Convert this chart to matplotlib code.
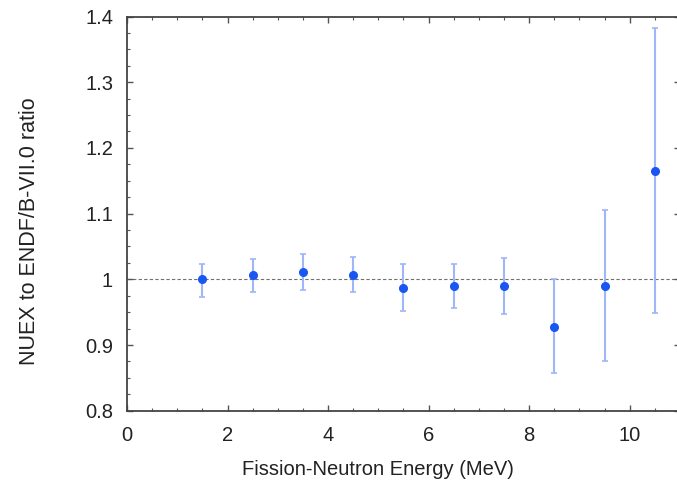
import numpy as np
import matplotlib
matplotlib.use("Agg")
import matplotlib.pyplot as plt
from matplotlib.ticker import MultipleLocator, FormatStrFormatter

plt.rcParams['font.family'] = ['Liberation Sans', 'DejaVu Sans']

# data
energy = [1.5, 2.5, 3.5, 4.5, 5.5, 6.5, 7.5, 8.5, 9.5, 10.5]
ratio = [1.000, 1.006, 1.011, 1.006, 0.987, 0.990, 0.990, 0.928, 0.990, 1.165]
err_hi = [1.024, 1.031, 1.038, 1.034, 1.023, 1.023, 1.033, 1.000, 1.105, 1.383]
err_lo = [0.973, 0.980, 0.983, 0.980, 0.952, 0.956, 0.947, 0.858, 0.875, 0.948]

ratio = np.array(ratio)
yerr = [ratio - np.array(err_lo), np.array(err_hi) - ratio]

fig = plt.figure(figsize=(6.77, 4.84), dpi=100)
ax = fig.add_axes([0.1876, 0.1514, 0.8168, 0.8145])

ax.axhline(1.0, color="#707070", lw=0.8, ls=(0, (3, 2)), zorder=1)
ax.errorbar(energy, ratio, yerr=yerr, fmt="none", ecolor="#9fb6f7",
            elinewidth=1.5, capsize=2.5, capthick=1.2, zorder=2)
ax.plot(energy, ratio, "o", color="#1a56f2", markersize=5.5, zorder=3)

ax.set_xlim(0, 11)
ax.set_ylim(0.8, 1.4)
ax.xaxis.set_major_locator(MultipleLocator(2))
ax.xaxis.set_minor_locator(MultipleLocator(0.5))
ax.yaxis.set_major_locator(MultipleLocator(0.1))
ax.yaxis.set_minor_locator(MultipleLocator(0.025))
ax.yaxis.set_major_formatter(FormatStrFormatter("%g"))

ax.tick_params(which="both", direction="in", top=True, right=True,
               colors="#555555", labelcolor="#222222", labelsize=14.5)
ax.tick_params(which="major", length=4, width=1)
ax.tick_params(which="minor", length=2, width=0.8)
ax.tick_params(axis="x", pad=11)
ax.tick_params(axis="y", pad=10)
for s in ax.spines.values():
    s.set_color("#444444")
    s.set_linewidth(1.3)

# axis titles placed where they sit in the original
fig.text(0.558, 0.029, "Fission-Neutron Energy (MeV)", fontsize=14.5,
         color="#222222", ha="center", va="center")
fig.text(0.0443, 0.523, "NUEX to ENDF/B-VII.0 ratio", fontsize=15.5,
         color="#222222", ha="center", va="center", rotation=90)

plt.savefig("out.png", dpi=100)
plt.close()
